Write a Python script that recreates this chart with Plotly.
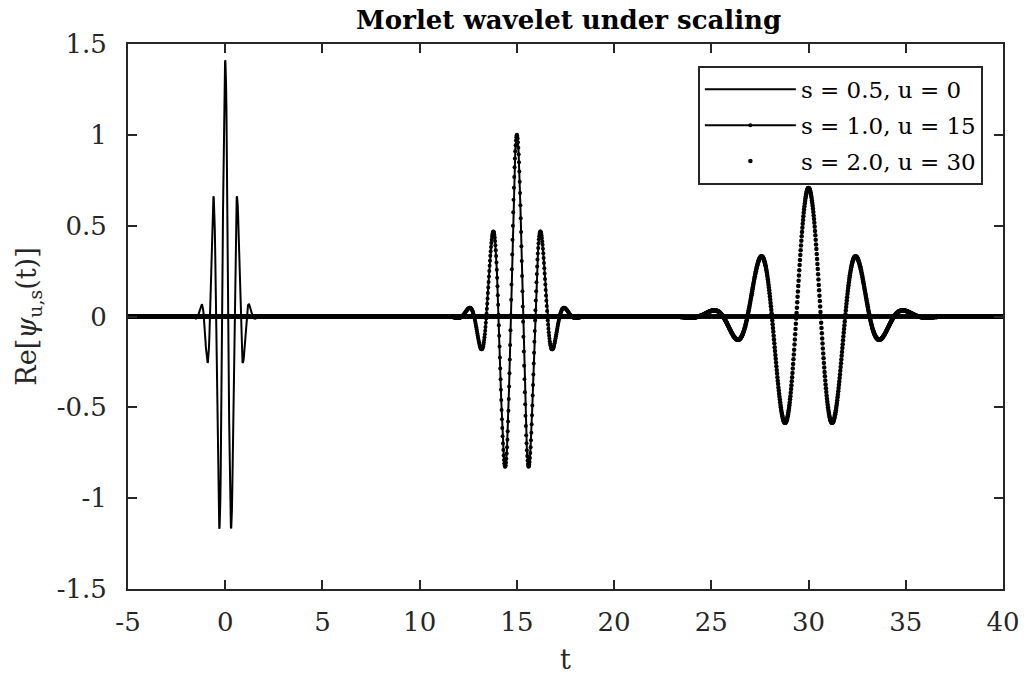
import numpy as np
import plotly.graph_objects as go

# Parameters
scales = [0.5, 1.0, 2.0]
shifts = [0, 15, 30]
labels = ["s = 0.5, u = 0", "s = 1.0, u = 15", "s = 2.0, u = 30"]
omega0 = 5.0          # centre frequency of the Morlet mother wavelet
t_start, t_stop, n_samples = -5.0, 40.0, 2561

x_ticks = [-5, 0, 5, 10, 15, 20, 25, 30, 35, 40]
y_ticks = [-1.5, -1, -0.5, 0, 0.5, 1, 1.5]
y_tick_text = ["-1.5", "-1", "-0.5", "0", "0.5", "1", "1.5"]
x_tick_text = [str(v) for v in x_ticks]

t = np.linspace(t_start, t_stop, n_samples)


def morlet_real(tt, s, u):
    z = (tt - u) / s
    return np.exp(-z ** 2 / 2) * np.cos(omega0 * z) / np.sqrt(s)


FONT = "DejaVu Serif"
fig = go.Figure()

styles = [
    dict(mode="lines", line=dict(color="black", width=2)),
    dict(mode="lines+markers", line=dict(color="black", width=2),
         marker=dict(color="black", size=4, symbol="circle")),
    dict(mode="markers", marker=dict(color="black", size=4.5, symbol="circle")),
]

for i, (s, u, lab, st) in enumerate(zip(scales, shifts, labels, styles)):
    fig.add_trace(go.Scatter(x=t, y=morlet_real(t, s, u), name=lab,
                             legendgroup=f"g{i}", **st))

axis_common = dict(
    showline=True, linecolor="#262626", linewidth=2, mirror="ticks",
    ticks="inside", ticklen=9, tickwidth=2, tickcolor="#262626",
    showgrid=False, zeroline=False,
    tickfont=dict(family=FONT, size=26, color="#262626"),
)

fig.update_layout(
    width=1032, height=682,
    margin=dict(l=128, r=24, t=44, b=89),
    paper_bgcolor="white", plot_bgcolor="white",
    title=dict(text="<b>Morlet wavelet under scaling</b>", x=0.551, xanchor="center",
               y=0.971, yanchor="middle",
               font=dict(family=FONT, size=26, color="black")),
    xaxis=dict(range=[-5, 40], tickvals=x_ticks, ticktext=x_tick_text,
               ticklabelstandoff=9,
               title=dict(text="t", font=dict(family=FONT, size=27, color="#262626"), standoff=14),
               **axis_common),
    yaxis=dict(range=[-1.5, 1.5], tickvals=y_ticks, ticktext=y_tick_text,
               ticklabelstandoff=14,
               title=dict(text="Re[<i>ψ</i><sub>u,s</sub>(t)]",
                          font=dict(family=FONT, size=27, color="#262626"), standoff=12),
               **axis_common),
    legend=dict(x=0.977, xanchor="right", y=0.960, yanchor="top",
                bgcolor="white", bordercolor="#262626", borderwidth=2,
                font=dict(family=FONT, size=23, color="black"),
                itemwidth=91, tracegroupgap=3),
    showlegend=True,
)

fig.write_html("out.html")
